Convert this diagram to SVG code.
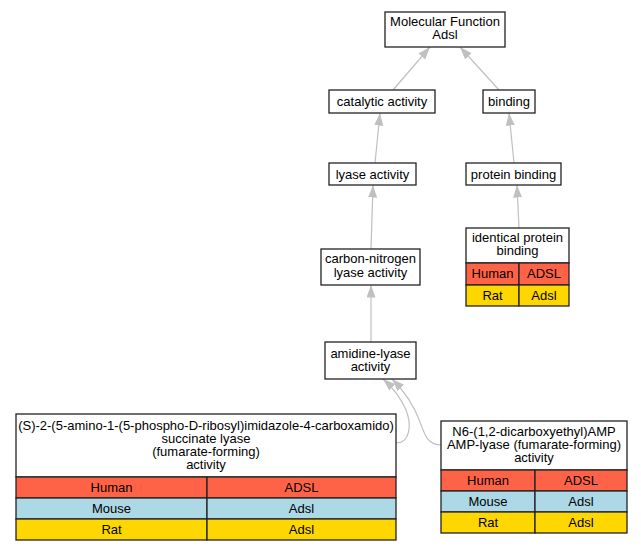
<svg xmlns="http://www.w3.org/2000/svg" width="641" height="552" viewBox="0 0 641 552">
<defs>
<style>
.b{fill:#fff;stroke:#222;stroke-width:1.3}
.h{fill:#ff6347;stroke:#222;stroke-width:1.3}
.m{fill:#add8e6;stroke:#222;stroke-width:1.3}
.r{fill:#ffd700;stroke:#222;stroke-width:1.3}
text{font-family:"Liberation Sans",Arial,sans-serif;font-size:13px;fill:#000;text-anchor:middle}
.e{fill:none;stroke:#c0c0c0;stroke-width:1.2;marker-end:url(#a)}
</style>
<marker id="a" markerUnits="userSpaceOnUse" markerWidth="13" markerHeight="10" refX="12.5" refY="4.5" orient="auto">
<path d="M0,0 L12.5,4.5 L0,9 z" fill="#c0c0c0"/>
</marker>
</defs>
<rect width="641" height="552" fill="#fff"/>
<g id="edges">
<path class="e" d="M393,90 L430,47"/>
<path class="e" d="M499,90 L460,47"/>
<path class="e" d="M375,163 L380,113"/>
<path class="e" d="M514,163 L509,113"/>
<path class="e" d="M371,249 L373,185"/>
<path class="e" d="M519,228 L517,185"/>
<path class="e" d="M371,342 L371,285"/>
<path class="e" d="M396,443 C410,443 412,425 406,410 C401,398 392,387 383,379"/>
<path class="e" d="M441,445 C428,445 425,436 420,422 C414,405 404,391 392,379"/>
</g>
<g id="n_mf">
<rect class="b" x="385" y="12" width="120" height="35"/>
<text x="445" y="26">Molecular Function</text>
<text x="445" y="39">Adsl</text>
</g>
<g id="n_catalytic">
<rect class="b" x="329" y="90" width="106" height="23"/>
<text x="382" y="106">catalytic activity</text>
</g>
<g id="n_binding">
<rect class="b" x="483" y="90" width="52" height="23"/>
<text x="509" y="106">binding</text>
</g>
<g id="n_lyase">
<rect class="b" x="329" y="163" width="87" height="22"/>
<text x="372.5" y="178.5">lyase activity</text>
</g>
<g id="n_protein">
<rect class="b" x="466" y="163" width="95" height="22"/>
<text x="513.5" y="178.5">protein binding</text>
</g>
<g id="n_cn">
<rect class="b" x="321" y="249" width="99" height="36"/>
<text x="370.5" y="263">carbon-nitrogen</text>
<text x="370.5" y="277">lyase activity</text>
</g>
<g id="n_identical">
<rect class="b" x="466" y="228" width="103" height="35"/>
<text x="517.5" y="242">identical protein</text>
<text x="517.5" y="255">binding</text>
<rect class="h" x="466" y="263" width="53" height="22"/>
<rect class="h" x="519" y="263" width="50" height="22"/>
<text x="492.5" y="277.5">Human</text>
<text x="544" y="277.5">ADSL</text>
<rect class="r" x="466" y="285" width="53" height="21"/>
<rect class="r" x="519" y="285" width="50" height="21"/>
<text x="492.5" y="299.5">Rat</text>
<text x="544" y="299.5">Adsl</text>
</g>
<g id="n_amidine">
<rect class="b" x="325" y="342" width="91" height="37"/>
<text x="370.5" y="357.5">amidine-lyase</text>
<text x="370.5" y="370.5">activity</text>
</g>
<g id="n_sacar">
<rect class="b" x="16" y="414" width="380" height="63"/>
<text x="206" y="429.5">(S)-2-(5-amino-1-(5-phospho-D-ribosyl)imidazole-4-carboxamido)</text>
<text x="206" y="442.5">succinate lyase</text>
<text x="206" y="455.5">(fumarate-forming)</text>
<text x="206" y="468.5">activity</text>
<rect class="h" x="16" y="477" width="191" height="21"/>
<rect class="h" x="207" y="477" width="189" height="21"/>
<text x="111.5" y="491.5">Human</text>
<text x="301.5" y="491.5">ADSL</text>
<rect class="m" x="16" y="498" width="191" height="21"/>
<rect class="m" x="207" y="498" width="189" height="21"/>
<text x="111.5" y="512.5">Mouse</text>
<text x="301.5" y="512.5">Adsl</text>
<rect class="r" x="16" y="519" width="191" height="21"/>
<rect class="r" x="207" y="519" width="189" height="21"/>
<text x="111.5" y="533.5">Rat</text>
<text x="301.5" y="533.5">Adsl</text>
</g>
<g id="n_n6">
<rect class="b" x="441" y="421" width="186" height="49"/>
<text x="534" y="435.5">N6-(1,2-dicarboxyethyl)AMP</text>
<text x="534" y="449">AMP-lyase (fumarate-forming)</text>
<text x="534" y="462">activity</text>
<rect class="h" x="441" y="470" width="94" height="21"/>
<rect class="h" x="535" y="470" width="92" height="21"/>
<text x="488" y="484.5">Human</text>
<text x="581" y="484.5">ADSL</text>
<rect class="m" x="441" y="491" width="94" height="21"/>
<rect class="m" x="535" y="491" width="92" height="21"/>
<text x="488" y="505.5">Mouse</text>
<text x="581" y="505.5">Adsl</text>
<rect class="r" x="441" y="512" width="94" height="21"/>
<rect class="r" x="535" y="512" width="92" height="21"/>
<text x="488" y="526.5">Rat</text>
<text x="581" y="526.5">Adsl</text>
</g>
</svg>
